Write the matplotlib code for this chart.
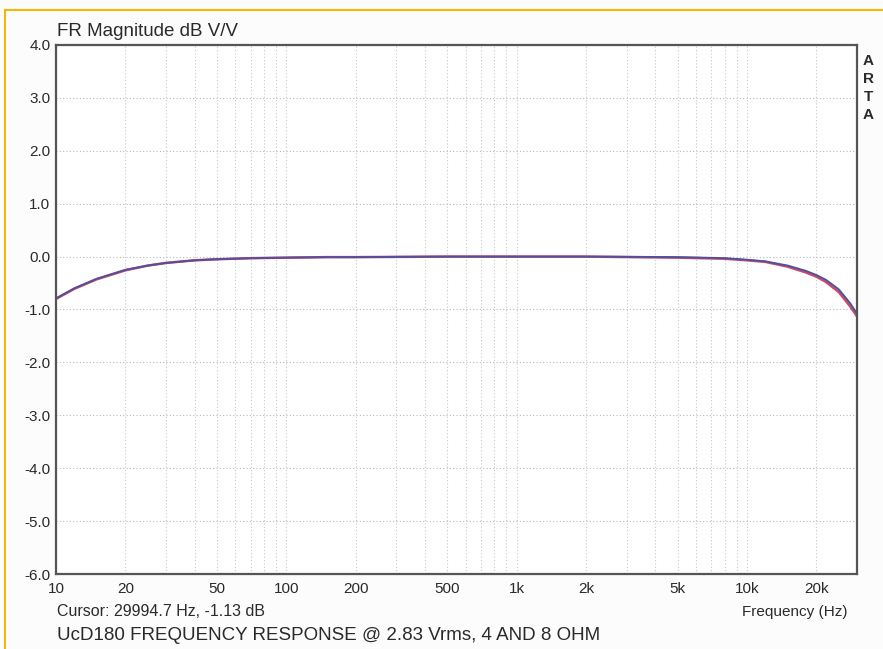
import matplotlib
matplotlib.use("Agg")
import matplotlib.pyplot as plt
from matplotlib.ticker import FixedLocator, NullFormatter, LogLocator
from matplotlib.lines import Line2D

plt.rcParams['font.family'] = ['Liberation Sans', 'DejaVu Sans']

# response (Hz, dB)
freq = [10, 12, 15, 20, 25, 30, 40, 50, 70, 100, 150, 200, 500, 1000, 2000,
        5000, 8000, 10000, 12000, 15000, 18000, 20000, 22000, 25000, 28000, 30000]
db_4ohm = [-0.79, -0.60, -0.42, -0.25, -0.17, -0.12, -0.07, -0.05, -0.03, -0.02, -0.01, -0.01,
           0.0, 0.0, 0.0, -0.01, -0.03, -0.06, -0.09, -0.17, -0.27, -0.35, -0.44, -0.62, -0.88, -1.08]
db_8ohm = [-0.80, -0.61, -0.43, -0.26, -0.17, -0.12, -0.07, -0.05, -0.03, -0.02, -0.01, -0.01,
           0.0, 0.0, 0.0, -0.02, -0.04, -0.07, -0.10, -0.19, -0.30, -0.38, -0.48, -0.67, -0.94, -1.13]

xticks = [10, 20, 50, 100, 200, 500, 1000, 2000, 5000, 10000, 20000]
xlabels = ['10', '20', '50', '100', '200', '500', '1k', '2k', '5k', '10k', '20k']
yticks = [4, 3, 2, 1, 0, -1, -2, -3, -4, -5, -6]

fig = plt.figure(figsize=(8.83, 6.49), dpi=100)
fig.patch.set_facecolor('#fcfcfc')

# orange frame of the page
fig.add_artist(Line2D([5/883, 1], [1 - 10/649, 1 - 10/649], color='#f5b800', lw=1.5))
fig.add_artist(Line2D([5/883, 5/883], [0, 1 - 10/649], color='#f5b800', lw=1.5))

ax = fig.add_axes([56/883, 1 - 574/649, (857 - 56)/883, (574 - 45)/649])
ax.set_facecolor('white')
ax.set_xscale('log')
ax.set_xlim(10, 30000)
ax.set_ylim(-6, 4)

ax.plot(freq, db_8ohm, color='#d04a68', lw=1.8)
ax.plot(freq, db_4ohm, color='#50509c', lw=1.4)

ax.xaxis.set_major_locator(FixedLocator(xticks))
ax.set_xticklabels(xlabels)
ax.xaxis.set_minor_locator(LogLocator(base=10, subs=range(2, 10), numticks=20))
ax.xaxis.set_minor_formatter(NullFormatter())
ax.set_yticks(yticks)
ax.set_yticklabels(['%.1f' % v for v in yticks])

ax.grid(True, which='both', axis='x', color='#c8c8c8', ls=(0, (1, 2)), lw=0.8)
ax.grid(True, which='major', axis='y', color='#b8b8b8', ls=(0, (1, 2)), lw=0.8)
ax.tick_params(which='both', length=0, labelsize=11, colors='#2a2a2a')
ax.tick_params(axis='x', pad=6)
ax.tick_params(axis='y', pad=4)
for s in ax.spines.values():
    s.set_color('#555555')
    s.set_linewidth(1.6)

txt = '#2a2a2a'
fig.text(57/883, 1 - 31/649, 'FR Magnitude dB V/V', fontsize=13.5, color=txt, va='center')
for i, ch in enumerate('ARTA'):
    fig.text(868/883, 1 - (61 + 18*i)/649, ch, fontsize=11, color=txt,
             ha='center', va='center', fontweight='bold')
fig.text(57/883, 1 - 612/649, 'Cursor: 29994.7 Hz, -1.13 dB', fontsize=11.5,
         color=txt, va='center')
fig.text(848/883, 1 - 612/649, 'Frequency (Hz)', fontsize=11, color=txt,
         ha='right', va='center')
fig.text(57/883, 1 - 635/649, 'UcD180 FREQUENCY RESPONSE @ 2.83 Vrms, 4 AND 8 OHM',
         fontsize=13.5, color=txt, va='center')

fig.savefig('out.png', dpi=100, facecolor=fig.get_facecolor())
